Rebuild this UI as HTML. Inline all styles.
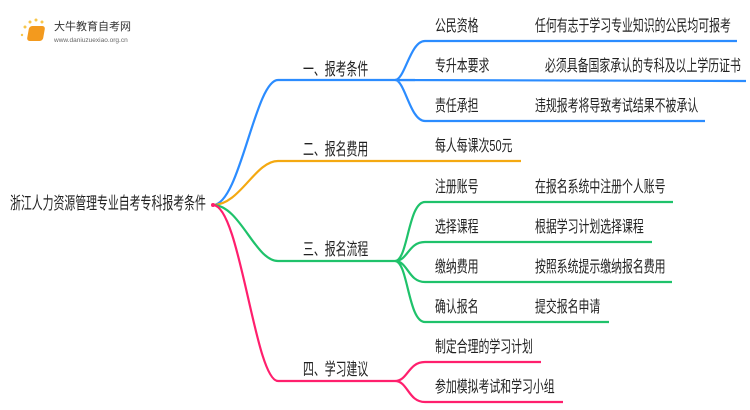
<!DOCTYPE html>
<html><head><meta charset="utf-8"><style>
body{margin:0;width:750px;height:410px;background:#fff;overflow:hidden;position:relative;font-family:"Liberation Sans","Noto Sans CJK SC",sans-serif;color:#222}
.t{position:absolute;white-space:nowrap;font-size:16px;line-height:18px;transform:scaleX(0.68);transform-origin:0 0}
.m{font-size:17px;transform:scaleX(0.64)}
</style></head><body>
<svg width="750" height="410" style="position:absolute;left:0;top:0" fill="none" stroke-width="2.2">
<path d="M213,205 C240,205 255,80 278,80 L415,80" stroke="#2b8cff"/>
<path d="M395,80 C405,80 410,41 425,41 L737,41 M395,80 L746,81 M395,80 C405,80 410,121 425,121 L705,121" stroke="#2b8cff"/>
<path d="M213,205 C240,205 255,161 278,161 L521,161" stroke="#f4a911"/>
<path d="M213,205 C240,205 255,261 278,261 L395,261" stroke="#1fc26b"/>
<path d="M395,261 C408,261 408,202 425,202 L673,202 M395,261 C408,261 408,242 425,242 L652,242 M395,261 C408,261 408,282 425,282 L672,282 M395,261 C408,261 408,322 425,322 L609,322" stroke="#1fc26b"/>
<path d="M213,205 C240,205 255,381 278,381 L395,381" stroke="#ff1f6d"/>
<path d="M395,381 C408,381 408,362 425,362 L541,362 M395,381 C408,381 408,402 425,402 L563,402" stroke="#ff1f6d"/>
<circle cx="213" cy="205" r="2" fill="#ff1f6d" stroke="none"/>
<g fill="#f8c64a" stroke="none"><circle cx="25" cy="27" r="1.5"/><circle cx="30" cy="22" r="1.5"/><circle cx="36" cy="20" r="1.5"/><circle cx="42" cy="22" r="1.5"/><circle cx="22" cy="35" r="1.2"/></g>
</svg>
<div style="position:absolute;left:28px;top:26px;width:16px;height:15px;background:#f39a1e;border-radius:3px;transform:skewX(-10deg)"></div>
<div class="t" style="left:54px;top:18px;font-size:11px;color:#333;transform:none">大牛教育自考网</div>
<div class="t" style="left:54px;top:32px;font-size:6.5px;color:#666;transform:none">www.daniuzuexiao.org.cn</div>
<div class="t" style="left:10px;top:195px;font-size:17px;transform:scaleX(0.64)">浙江人力资源管理专业自考专科报考条件</div>
<div class="t m" style="left:303px;top:61px">一、报考条件</div>
<div class="t m" style="left:303px;top:141px">二、报名费用</div>
<div class="t m" style="left:303px;top:241px">三、报名流程</div>
<div class="t m" style="left:303px;top:361px">四、学习建议</div>
<div class="t" style="left:435px;top:18px">公民资格</div>
<div class="t" style="left:535px;top:18px">任何有志于学习专业知识的公民均可报考</div>
<div class="t" style="left:435px;top:58px">专升本要求</div>
<div class="t" style="left:545px;top:58px">必须具备国家承认的专科及以上学历证书</div>
<div class="t" style="left:435px;top:98px">责任承担</div>
<div class="t" style="left:535px;top:98px">违规报考将导致考试结果不被承认</div>
<div class="t" style="left:435px;top:138px">每人每课次50元</div>
<div class="t" style="left:435px;top:179px">注册账号</div>
<div class="t" style="left:535px;top:179px">在报名系统中注册个人账号</div>
<div class="t" style="left:435px;top:219px">选择课程</div>
<div class="t" style="left:535px;top:219px">根据学习计划选择课程</div>
<div class="t" style="left:435px;top:259px">缴纳费用</div>
<div class="t" style="left:535px;top:259px">按照系统提示缴纳报名费用</div>
<div class="t" style="left:435px;top:299px">确认报名</div>
<div class="t" style="left:535px;top:299px">提交报名申请</div>
<div class="t" style="left:435px;top:339px">制定合理的学习计划</div>
<div class="t" style="left:435px;top:379px">参加模拟考试和学习小组</div>
</body></html>
